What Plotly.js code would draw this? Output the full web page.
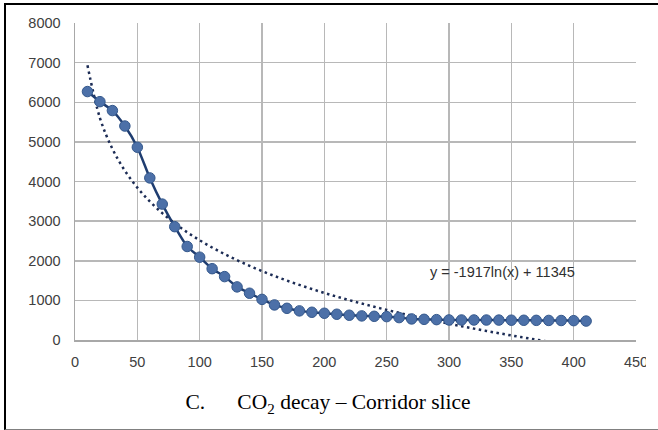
<!DOCTYPE html>
<html>
<head>
<meta charset="utf-8">
<script src="https://cdn.plot.ly/plotly-3.0.1.min.js"></script>
<style>
  html, body { margin: 0; padding: 0; background: #ffffff; }
  #wrap { position: relative; width: 658px; height: 430px; overflow: hidden; }
  #chart { position: absolute; left: 0; top: 0; width: 658px; height: 430px; }
  #frame { position: absolute; left: 4px; top: 3px; width: 660px; height: 424px;
           border-top: 2px solid #000; border-left: 2px solid #000; border-bottom: 1px solid #808080;
           pointer-events: none; }
  #clip { position: absolute; left: 646px; top: 345px; width: 12px; height: 35px; background: #ffffff; }
</style>
</head>
<body>
<div id="wrap">
  <div id="chart"></div>
  <div id="clip"></div>
  <div id="frame"></div>
</div>
<script>
// Sample distance / time steps
const xValues = [10, 20, 30, 40, 50, 60, 70, 80, 90, 100,
                 110, 120, 130, 140, 150, 160, 170, 180, 190, 200,
                 210, 220, 230, 240, 250, 260, 270, 280, 290, 300,
                 310, 320, 330, 340, 350, 360, 370, 380, 390, 400, 410];
// CO2 concentration
const co2Values = [6270, 6015, 5790, 5400, 4865, 4090, 3430, 2860, 2360, 2090,
                   1800, 1600, 1340, 1180, 1025, 885, 800, 735, 700, 675,
                   650, 625, 608, 598, 590, 565, 532, 522, 514, 506,
                   505, 505, 504, 503, 500, 498, 496, 494, 492, 488, 478];
// Logarithmic trendline coefficients shown on the chart: y = a ln(x) + b
const trendA = -1917;
const trendB = 11345;
const trendLabel = 'y = -1917ln(x) + 11345';
const xTicks = [0, 50, 100, 150, 200, 250, 300, 350, 400, 450];
const yTicks = [0, 1000, 2000, 3000, 4000, 5000, 6000, 7000, 8000];
const chartTitle = 'C.\u00A0\u00A0\u00A0\u00A0\u00A0\u00A0CO<sub>2</sub> decay \u2013 Corridor slice';

const trendY = xValues.map(x => trendA * Math.log(x) + trendB);

const traces = [
  {
    x: xValues, y: trendY, type: 'scatter', mode: 'lines',
    line: { color: '#1c2c55', width: 2.5, dash: '2.5px,3.5px', shape: 'spline', smoothing: 1 },
    hoverinfo: 'skip', showlegend: false
  },
  {
    x: xValues, y: co2Values, type: 'scatter', mode: 'lines+markers',
    line: { color: '#1f3d70', width: 2.5, shape: 'spline', smoothing: 0.6 },
    marker: { size: 10.5, color: '#4c70a8', line: { color: '#34588c', width: 1 } },
    showlegend: false
  }
];

const axisFont = { family: '"Liberation Sans", Arial, sans-serif', size: 14.5, color: '#404040' };

const layout = {
  width: 658, height: 430,
  margin: { l: 75, r: 22, t: 23, b: 90 },
  paper_bgcolor: '#ffffff', plot_bgcolor: '#ffffff',
  showlegend: false,
  title: {
    text: chartTitle,
    font: { family: '"Liberation Serif", "Times New Roman", serif', size: 21.5, color: '#000000' },
    x: 0.4985, xanchor: 'center', xref: 'container',
    y: 0.066, yanchor: 'middle', yref: 'container'
  },
  xaxis: {
    range: [0, 450], tickvals: xTicks, ticktext: xTicks.map(String),
    showgrid: true, gridcolor: '#b8b8b8', gridwidth: 1.5,
    showline: true, linecolor: '#a8a8a8', linewidth: 1.5,
    zeroline: false, ticks: 'outside', ticklen: 8, tickcolor: 'rgba(0,0,0,0)',
    tickfont: axisFont, fixedrange: true
  },
  yaxis: {
    range: [0, 8000], tickvals: yTicks, ticktext: yTicks.map(String),
    showgrid: true, gridcolor: '#b8b8b8', gridwidth: 1.5,
    showline: true, linecolor: '#a8a8a8', linewidth: 1.5,
    zeroline: false, ticks: 'outside', ticklen: 10, tickcolor: 'rgba(0,0,0,0)',
    tickfont: axisFont, fixedrange: true
  },
  annotations: [
    {
      x: 343, y: 1716, xref: 'x', yref: 'y', text: trendLabel, showarrow: false,
      xanchor: 'center', yanchor: 'middle',
      font: { family: '"Liberation Sans", Arial, sans-serif', size: 14.5, color: '#303030' }
    }
  ]
};

Plotly.newPlot('chart', traces, layout, { displayModeBar: false, staticPlot: true });
</script>
</body>
</html>
